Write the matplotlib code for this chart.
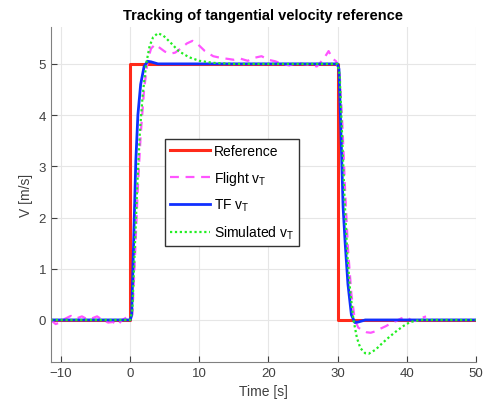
import matplotlib
matplotlib.use("Agg")
from matplotlib import pyplot as plt

plt.rcParams['font.family'] = ['Liberation Sans', 'DejaVu Sans']
plt.rcParams['mathtext.fontset'] = 'custom'
plt.rcParams['mathtext.rm'] = 'Liberation Sans'

# reference step
t_ref = [-11.5, 0, 0, 30, 30, 50]
v_ref = [0, 0, 5, 5, 0, 0]

# flight data
t_fl = [-11.5, -10.8, -10.2, -9.5, -8.6, -7.8, -7.0, -6.3, -5.6, -4.8, -4.0, -3.2,
        -2.5, -1.8, -1.2, -0.5, 0.0, 0.3, 0.7, 1.1, 1.5, 2.0, 2.5, 3.0, 3.6, 4.2,
        5.0, 5.8, 6.5, 7.3, 8.2, 9.0, 9.8, 10.8, 12, 13, 14, 15, 16, 17, 18, 19,
        20, 21, 22, 23, 24, 25, 26, 27, 28, 28.7, 29.3, 29.8, 30.3, 30.7, 31.1,
        31.5, 32, 32.5, 33, 33.6, 34.2, 34.8, 35.5, 36.2, 37, 37.8, 38.5, 39.2,
        39.9, 40.6, 41.3, 42, 42.8]
v_fl = [0.0, -0.08, -0.05, 0.02, 0.08, 0.03, 0.07, 0.02, 0.03, 0.07, 0.0, -0.05,
        -0.04, -0.1, 0.0, 0.05, 0.02, 0.1, 1.3, 2.6, 3.6, 4.5, 5.05, 5.3, 5.38, 5.32,
        5.24, 5.2, 5.22, 5.3, 5.4, 5.45, 5.38, 5.25, 5.15, 5.12, 5.1, 5.08, 5.1, 5.06,
        5.12, 5.15, 5.08, 5.05, 5.0, 4.97, 5.02, 5.0, 4.98, 4.95, 5.1, 5.25, 5.1,
        5.05, 4.8, 3.8, 2.5, 1.4, 0.5, 0.0, -0.15, -0.2, -0.24, -0.25, -0.22, -0.17,
        -0.12, -0.06, -0.02, 0.03, 0.06, 0.0, -0.02, 0.03, 0.07]

# transfer function response
t_tf = [-11.5, 0, 0.2, 0.5, 0.8, 1.1, 1.5, 2.0, 2.5, 3.0, 4.0, 5.0,
        30, 30.2, 30.5, 30.8, 31.1, 31.5, 32.0, 32.5, 33.0, 34.0, 35.0, 50]
v_tf = [0, 0, 0.1, 1.6, 3.1, 4.0, 4.6, 4.95, 5.05, 5.04, 5.0, 5.0,
        5, 4.9, 3.6, 2.2, 1.5, 0.7, 0.1, -0.05, -0.04, 0, 0, 0]

# simulated response
t_sim = [-11.5, 0, 0.3, 0.6, 1.0, 1.4, 1.8, 2.3, 2.8, 3.3, 4.0, 4.8, 5.8, 7, 8.5,
         10, 12, 15, 30, 30.3, 30.6, 31.0, 31.4, 31.8, 32.3, 32.8, 33.3, 34.0,
         34.5, 35.5, 36.5, 37.5, 38.5, 39.5, 40.5, 42, 50]
v_sim = [0, 0, 0.2, 1.2, 2.6, 3.7, 4.4, 5.0, 5.35, 5.52, 5.6, 5.55, 5.42, 5.25,
         5.13, 5.06, 5.02, 5.0, 5.0, 4.8, 3.8, 2.4, 1.3, 0.6, 0.0, -0.35, -0.55,
         -0.65, -0.66, -0.58, -0.45, -0.33, -0.22, -0.12, -0.04, 0, 0]

fig = plt.figure(figsize=(4.84, 4.06), dpi=100)
ax = fig.add_axes([0.105, 0.106, 0.878, 0.825])

ax.plot(t_ref, v_ref, color="#ff2a1a", lw=2.2, label="Reference")
ax.plot(t_fl, v_fl, color="#ff55ff", lw=1.6, ls=(0, (4, 3)), label=r"Flight v$_{\mathrm{T}}$")
ax.plot(t_tf, v_tf, color="#1030ff", lw=2.0, label=r"TF v$_{\mathrm{T}}$")
ax.plot(t_sim, v_sim, color="#22ee22", lw=1.6, ls=(0, (1, 1.2)), label=r"Simulated v$_{\mathrm{T}}$")

ax.set_xlim(-11.5, 50)
ax.set_ylim(-0.82, 5.72)
ax.set_xticks([-10, 0, 10, 20, 30, 40, 50])
ax.set_yticks([0, 1, 2, 3, 4, 5])
ax.grid(True, color="#e6e6e6", lw=0.8)
ax.set_axisbelow(True)
for s in ["top", "right"]:
    ax.spines[s].set_visible(False)
for s in ["left", "bottom"]:
    ax.spines[s].set_color("#808080")
ax.tick_params(direction="in", colors="#404040", labelsize=9.5, length=4)

ax.set_title("Tracking of tangential velocity reference", fontsize=10.5, fontweight="bold")
ax.set_xlabel("Time [s]", fontsize=10, color="#404040")
ax.set_ylabel("V [m/s]", fontsize=10, color="#404040")

leg = ax.legend(loc="lower left", bbox_to_anchor=(0.268, 0.346), fontsize=10,
                fancybox=False, framealpha=1, edgecolor="#333333", borderaxespad=0,
                handlelength=2.9, borderpad=0.35, labelspacing=0.75, handletextpad=0.3)

plt.savefig("out.png", dpi=100)
